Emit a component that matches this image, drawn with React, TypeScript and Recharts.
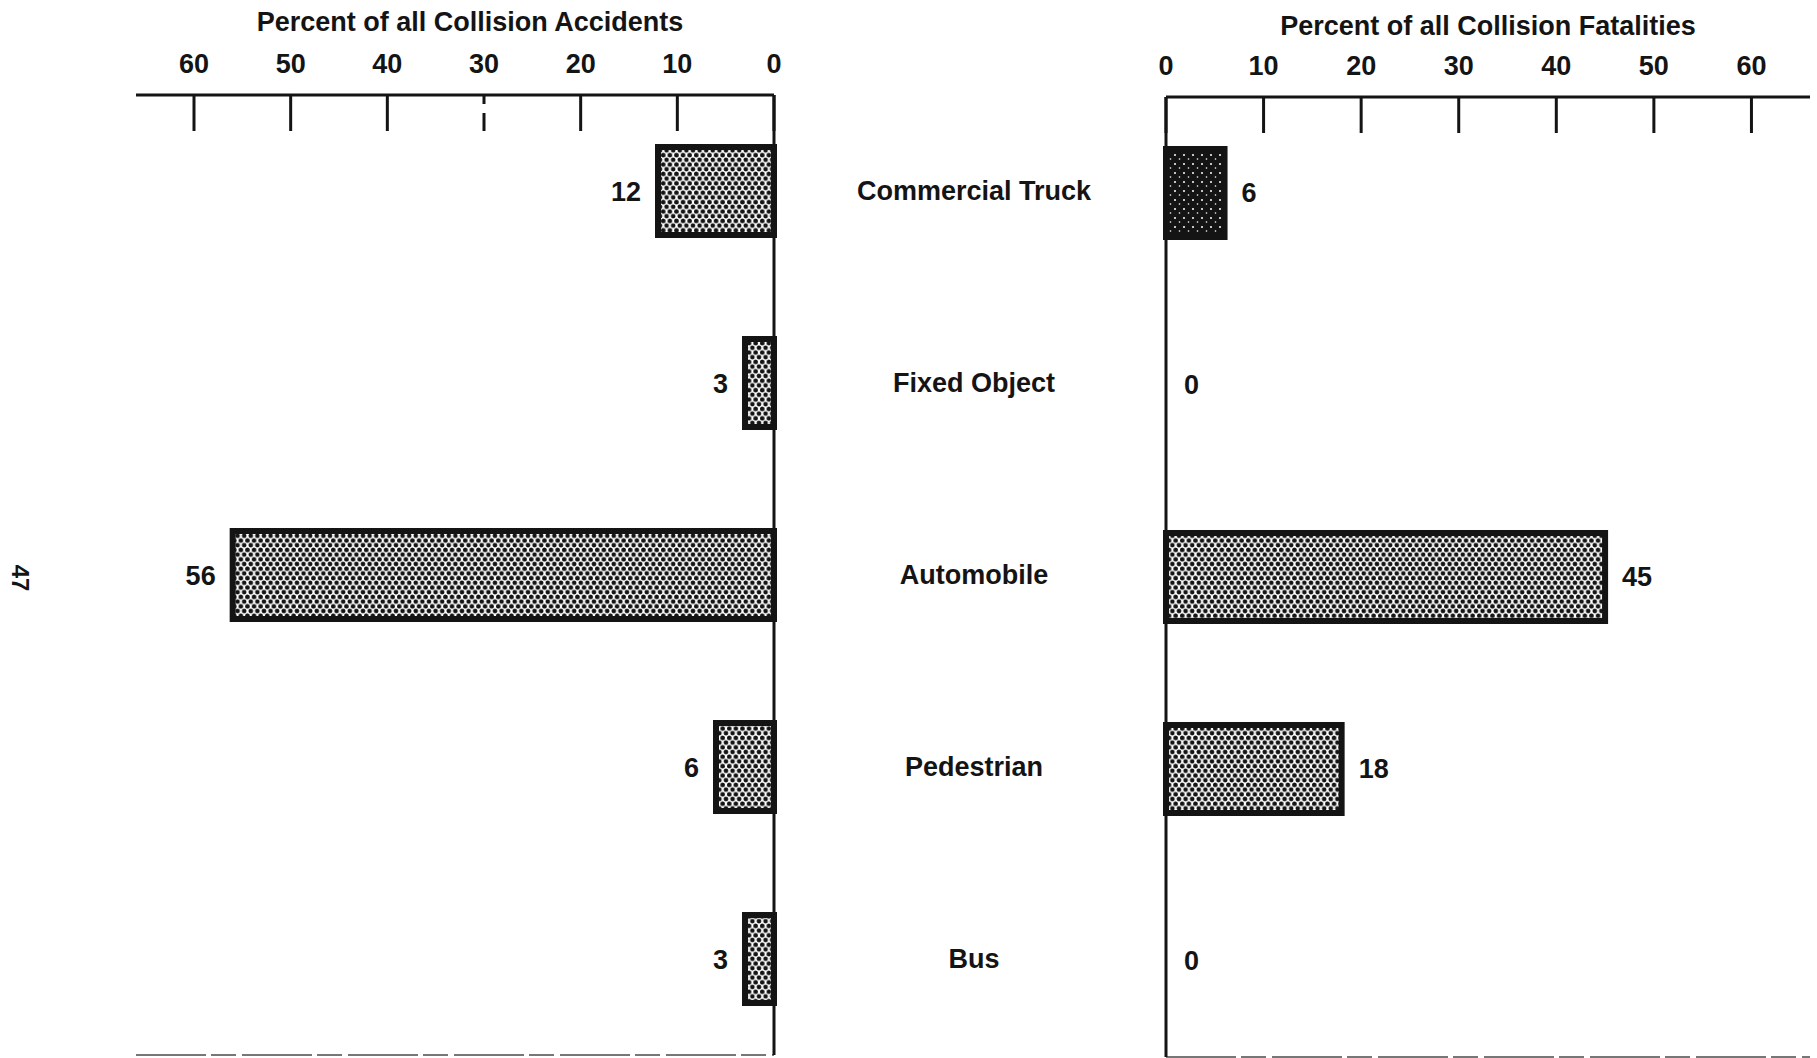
/* Collision accidents vs fatalities — mirrored horizontal bar charts */

import { BarChart, Bar, XAxis, YAxis, LabelList, Label, CartesianGrid, Cell } from 'recharts';

const categories = ['Commercial Truck', 'Fixed Object', 'Automobile', 'Pedestrian', 'Bus'];
const accidentPct = [12, 3, 56, 6, 3];
const fatalityPct = [6, 0, 45, 18, 0];
const axisTicks = [0, 10, 20, 30, 40, 50, 60];
const accidentTitle = 'Percent of all Collision Accidents';
const fatalityTitle = 'Percent of all Collision Fatalities';
const pageNumber = '47';

const rows = categories.map((name, i) => ({
  name,
  accidents: accidentPct[i],
  fatalities: fatalityPct[i],
}));

const FONT = '"Liberation Sans", Arial, Helvetica, sans-serif';
const INK = '#141414';
const TXT = { fontFamily: FONT, fontWeight: 700, fontSize: 27, fill: INK };

/* ticks hang down from the axis line, numbers sit above it */
function TopTick({ x, y, payload, dashedAt }: any) {
  const dashed = dashedAt !== undefined && payload.value === dashedAt;
  return (
    <g>
      <text x={x} y={y - 31} textAnchor="middle" dominantBaseline="central" style={TXT}>
        {payload.value}
      </text>
      <line
        x1={x} x2={x} y1={y} y2={y + 36}
        stroke={INK} strokeWidth={3}
        strokeDasharray={dashed ? '9 9 18' : undefined}
      />
    </g>
  );
}

/* category names in the gutter between both panels */
function CenterTick({ x, y, payload }: any) {
  return (
    <text x={x + 200} y={y} textAnchor="middle" dominantBaseline="central" style={TXT}>
      {payload.value}
    </text>
  );
}

function Title({ viewBox, text, dx, dy }: any) {
  return (
    <text
      x={viewBox.x + viewBox.width / 2 + dx}
      y={viewBox.y + 22 + dy}
      textAnchor="middle"
      dominantBaseline="central"
      style={TXT}
    >
      {text}
    </text>
  );
}

/* value label to the right of a bar, also drawn for 0 */
function RightValue({ x, y, width, height, value }: any) {
  return (
    <text x={x + width + 17} y={y + height / 2} dominantBaseline="central" style={TXT}>
      {value}
    </text>
  );
}

const bottomLine = ({ offset }: any) => [offset.top + offset.height];

export default function App() {
  return (
    <div style={{ position: 'absolute', left: 0, top: 0, width: 1817, height: 1058, background: '#fff' }}>
      <svg width={0} height={0} style={{ position: 'absolute' }}>
        <defs>
          <pattern id="dots" width="6.6" height="9.4" patternUnits="userSpaceOnUse">
            <rect width="6.6" height="9.4" fill="#fff" />
            <circle cx="0" cy="0" r="2.35" fill={INK} />
            <circle cx="6.6" cy="0" r="2.35" fill={INK} />
            <circle cx="0" cy="9.4" r="2.35" fill={INK} />
            <circle cx="6.6" cy="9.4" r="2.35" fill={INK} />
            <circle cx="3.3" cy="4.7" r="2.35" fill={INK} />
          </pattern>
          <pattern id="dark" width="9" height="9" patternUnits="userSpaceOnUse">
            <rect width="9" height="9" fill={INK} />
            <circle cx="2" cy="2" r="1" fill="#fff" />
            <circle cx="6.5" cy="6" r="0.8" fill="#fff" />
          </pattern>
        </defs>
      </svg>

      {/* page number in the margin */}
      <svg width={50} height={80} style={{ position: 'absolute', left: 0, top: 540 }}>
        <text
          x={20} y={38}
          transform="rotate(90 20 38)"
          textAnchor="middle"
          dominantBaseline="central"
          style={{ ...TXT, fontSize: 24, fontWeight: 900 }}
        >
          {pageNumber}
        </text>
      </svg>

      {/* ── Left panel: accidents ─────────────────────────────────── */}
      <div style={{ position: 'absolute', left: 0, top: 0 }}>
        <BarChart
          width={1160}
          height={1058}
          data={rows}
          layout="vertical"
          margin={{ top: 0, right: 0, bottom: 3, left: 136 }}
          barSize={88}
        >
          <CartesianGrid
            vertical={false}
            horizontalCoordinatesGenerator={bottomLine}
            stroke="#777"
            strokeWidth={2}
            strokeDasharray="70 5 25 6"
          />
          <XAxis
            type="number"
            orientation="top"
            domain={[0, 66]}
            ticks={axisTicks}
            interval={0}
            reversed
            height={95}
            tickSize={0}
            tickMargin={0}
            tickLine={false}
            axisLine={{ stroke: INK, strokeWidth: 3 }}
            tick={<TopTick dashedAt={30} />}
          >
            <Label content={(p: any) => <Title {...p} text={accidentTitle} dx={15} dy={0} />} />
          </XAxis>
          <YAxis
            type="category"
            dataKey="name"
            orientation="right"
            width={386}
            interval={0}
            tickSize={0}
            tickMargin={0}
            tickLine={false}
            axisLine={{ stroke: INK, strokeWidth: 3 }}
            tick={<CenterTick />}
          />
          <Bar dataKey="accidents" fill="url(#dots)" stroke={INK} strokeWidth={6} isAnimationActive={false}>
            <LabelList
              dataKey="accidents"
              position="right"
              offset={17}
              fill={INK}
              stroke="none"
              fontFamily={FONT}
              fontWeight={700}
              fontSize={27}
            />
          </Bar>
        </BarChart>
      </div>

      {/* ── Right panel: fatalities ───────────────────────────────── */}
      <div style={{ position: 'absolute', left: 1146, top: 0 }}>
        <BarChart
          width={671}
          height={1058}
          data={rows}
          layout="vertical"
          margin={{ top: 0, right: 7, bottom: 1, left: 0 }}
          barSize={88}
        >
          <CartesianGrid
            vertical={false}
            horizontalCoordinatesGenerator={bottomLine}
            stroke="#777"
            strokeWidth={2}
            strokeDasharray="70 5 25 6"
          />
          <XAxis
            type="number"
            orientation="top"
            domain={[0, 66]}
            ticks={axisTicks}
            interval={0}
            height={97}
            tickSize={0}
            tickMargin={0}
            tickLine={false}
            axisLine={{ stroke: INK, strokeWidth: 3 }}
            tick={<TopTick />}
          >
            <Label content={(p: any) => <Title {...p} text={fatalityTitle} dx={0} dy={4} />} />
          </XAxis>
          <YAxis
            type="category"
            dataKey="name"
            orientation="left"
            width={20}
            tick={false}
            tickLine={false}
            axisLine={{ stroke: INK, strokeWidth: 3 }}
          />
          <Bar dataKey="fatalities" stroke={INK} strokeWidth={6} minPointSize={1} isAnimationActive={false}>
            {rows.map((r, i) => (
              <Cell
                key={i}
                fill={r.fatalities === 0 ? 'none' : i === 0 ? 'url(#dark)' : 'url(#dots)'}
                stroke={r.fatalities === 0 ? 'none' : INK}
              />
            ))}
            <LabelList dataKey="fatalities" content={<RightValue />} />
          </Bar>
        </BarChart>
      </div>
    </div>
  );
}
